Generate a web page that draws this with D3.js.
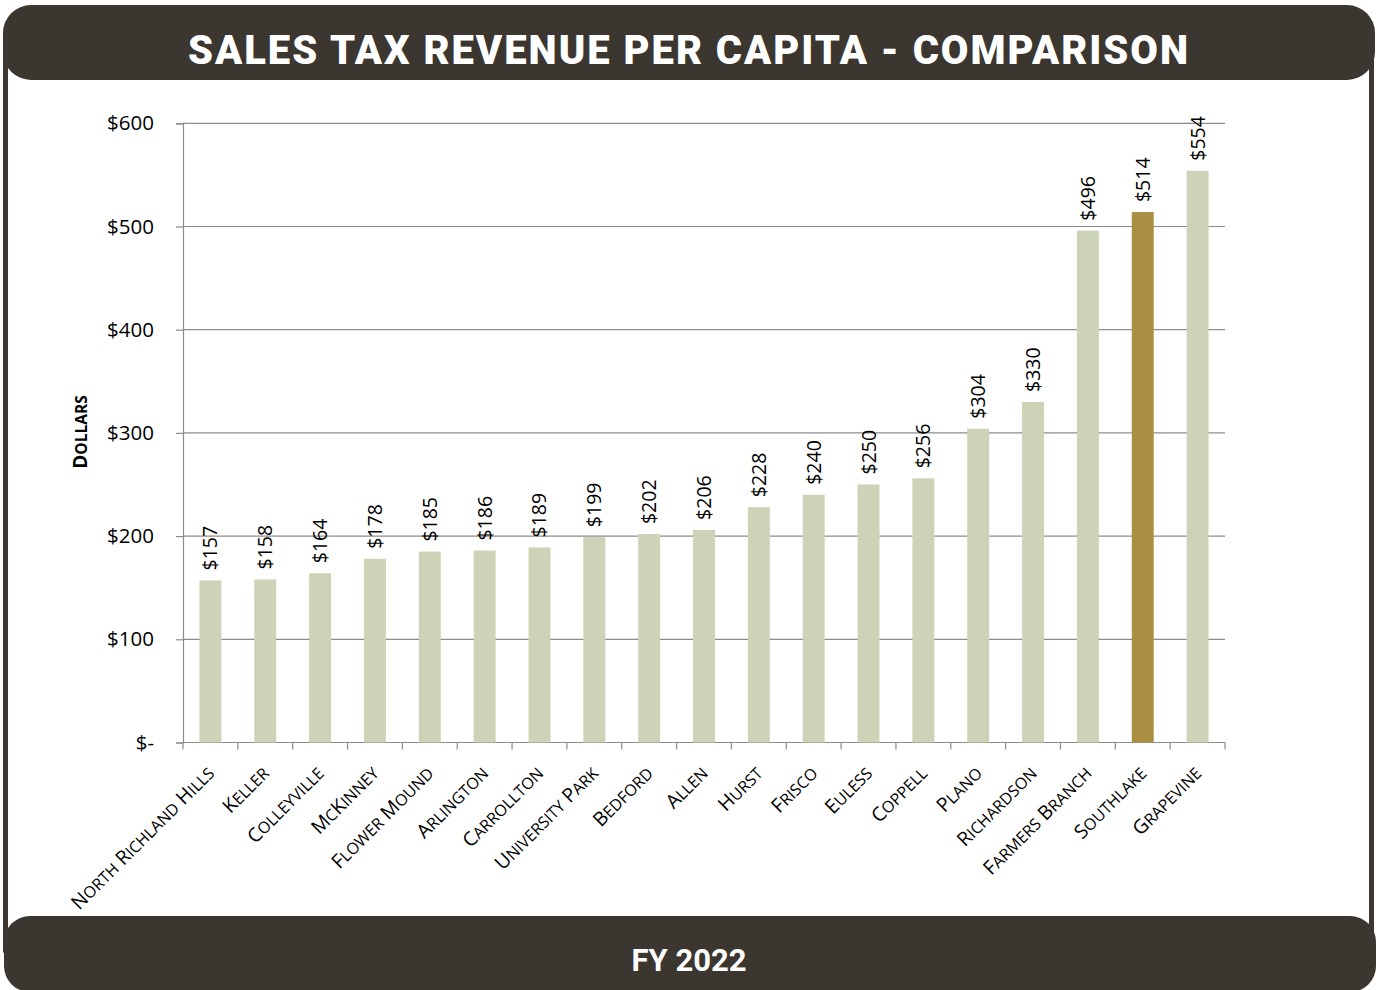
<!DOCTYPE html>
<html>
<head>
<meta charset="utf-8">
<script src="https://cdn.jsdelivr.net/npm/d3@7"></script>
<style>
  html, body { margin: 0; padding: 0; background: #ffffff; }
  svg { display: block; }
</style>
</head>
<body>
<svg id="chart" width="1377" height="990"></svg>
<script>
// Per-capita sales tax revenue, FY 2022
const cities = ["North Richland Hills", "Keller", "Colleyville", "McKinney", "Flower Mound",
  "Arlington", "Carrollton", "University Park", "Bedford", "Allen", "Hurst", "Frisco",
  "Euless", "Coppell", "Plano", "Richardson", "Farmers Branch", "Southlake", "Grapevine"];
const revenue = [157, 158, 164, 178, 185, 186, 189, 199, 202, 206, 228, 240, 250, 256,
  304, 330, 496, 514, 554];
const highlighted = ["Southlake"];
const yTickValues = [0, 100, 200, 300, 400, 500, 600];
const yTickLabels = ["$-", "$100", "$200", "$300", "$400", "$500", "$600"];
const titleText = "SALES TAX REVENUE PER CAPITA - COMPARISON";
const footerText = "FY 2022";
const yAxisTitle = "Dollars";

const dark = "#3b362f";
const barColor = "#ccd3b6";
const highlightColor = "#aa8f42";
const gridColor = "#8c8c8c";
const bodyFont = "'Open Sans', 'DejaVu Sans', sans-serif";

const svg = d3.select("#chart");

// Frame: side rules plus rounded header and footer bands
svg.append("rect")
  .attr("x", 5.5).attr("y", 40).attr("width", 1366).attr("height", 910)
  .attr("fill", "none").attr("stroke", dark).attr("stroke-width", 5);
svg.append("rect")
  .attr("x", 3).attr("y", 5).attr("width", 1372).attr("height", 75)
  .attr("rx", 28).attr("ry", 28).attr("fill", dark);
svg.append("rect")
  .attr("x", 4).attr("y", 916).attr("width", 1372).attr("height", 76)
  .attr("rx", 26).attr("ry", 26).attr("fill", dark);

svg.append("text")
  .attr("x", 688).attr("y", 64)
  .attr("text-anchor", "middle")
  .attr("fill", "#ffffff")
  .attr("font-family", "Roboto, 'DejaVu Sans', sans-serif")
  .attr("font-weight", 900)
  .attr("font-size", 40)
  .attr("textLength", 1000)
  .attr("lengthAdjust", "spacing")
  .text(titleText);

svg.append("text")
  .attr("x", 689).attr("y", 971)
  .attr("text-anchor", "middle")
  .attr("fill", "#ffffff")
  .attr("font-family", "Roboto, 'DejaVu Sans', sans-serif")
  .attr("font-weight", 700)
  .attr("font-size", 31)
  .text(footerText);

// Scales
const plotLeft = 183, plotRight = 1225, plotTop = 123.3, plotBottom = 742.5;
const x = d3.scaleBand().domain(cities).range([plotLeft, plotRight])
  .paddingInner(0.6).paddingOuter(0.3);
const y = d3.scaleLinear().domain([0, 600]).range([plotBottom, plotTop]);

// Gridlines
svg.append("g")
  .selectAll("line")
  .data(yTickValues.filter(v => v > 0))
  .join("line")
  .attr("x1", plotLeft).attr("x2", plotRight)
  .attr("y1", d => y(d)).attr("y2", d => y(d))
  .attr("stroke", gridColor).attr("stroke-width", 1.2);

// Y axis
const yAxis = svg.append("g")
  .attr("transform", `translate(${plotLeft},0)`)
  .call(d3.axisLeft(y).tickValues(yTickValues)
    .tickFormat((d, i) => yTickLabels[i]).tickSize(7).tickPadding(22));
yAxis.select(".domain").attr("stroke", gridColor).attr("stroke-width", 1.2);
yAxis.selectAll(".tick line").attr("stroke", gridColor).attr("stroke-width", 1.2);
yAxis.selectAll(".tick text")
  .attr("font-family", bodyFont).attr("font-size", 20.5).attr("fill", "#000");

// Category axis: baseline with ticks at band boundaries
const step = x.step();
const firstEdge = x(cities[0]) - (step - x.bandwidth()) / 2;
const boundaries = d3.range(cities.length + 1).map(i => firstEdge + i * step);
svg.append("line")
  .attr("x1", plotLeft).attr("x2", plotRight)
  .attr("y1", plotBottom).attr("y2", plotBottom)
  .attr("stroke", gridColor).attr("stroke-width", 1.2);
svg.append("g").selectAll("line").data(boundaries).join("line")
  .attr("x1", d => d).attr("x2", d => d)
  .attr("y1", plotBottom).attr("y2", plotBottom + 7)
  .attr("stroke", gridColor).attr("stroke-width", 1.2);

// Bars
svg.append("g").selectAll("rect")
  .data(cities)
  .join("rect")
  .attr("x", d => x(d))
  .attr("width", x.bandwidth())
  .attr("y", (d, i) => y(revenue[i]))
  .attr("height", (d, i) => y(0) - y(revenue[i]))
  .attr("fill", d => highlighted.includes(d) ? highlightColor : barColor);

// Value labels, rotated above each bar
svg.append("g").selectAll("text")
  .data(cities)
  .join("text")
  .attr("transform", (d, i) =>
    `translate(${x(d) + x.bandwidth() / 2 + 7},${y(revenue[i]) - 10}) rotate(-90)`)
  .attr("text-anchor", "start")
  .attr("font-family", bodyFont)
  .attr("font-size", 19.5)
  .attr("fill", "#000")
  .text((d, i) => "$" + revenue[i]);

// Small-caps helper: capitals stay large, lowercase letters become small capitals
function smallCaps(sel, str, big, small) {
  const runs = [];
  for (const ch of str) {
    const isBig = ch === ch.toUpperCase();
    const last = runs[runs.length - 1];
    if (last && last.big === isBig) last.t += ch.toUpperCase();
    else runs.push({ big: isBig, t: ch.toUpperCase() });
  }
  sel.selectAll("tspan").data(runs).join("tspan")
    .attr("font-size", r => r.big ? big : small)
    .text(r => r.t);
}

// Category labels at -45 degrees
svg.append("g").selectAll("text")
  .data(cities)
  .join("text")
  .attr("transform", d =>
    `translate(${x(d) + x.bandwidth() / 2 + 5},${plotBottom + 32}) rotate(-45)`)
  .attr("text-anchor", "end")
  .attr("font-family", bodyFont)
  .attr("fill", "#000")
  .each(function (d) { smallCaps(d3.select(this), d, 19.5, 16); });

// Y axis title
svg.append("text")
  .attr("transform", "translate(87,432) rotate(-90)")
  .attr("text-anchor", "middle")
  .attr("font-family", bodyFont)
  .attr("font-weight", 700)
  .attr("fill", "#000")
  .each(function () { smallCaps(d3.select(this), yAxisTitle, 19, 15.5); });
</script>
</body>
</html>
